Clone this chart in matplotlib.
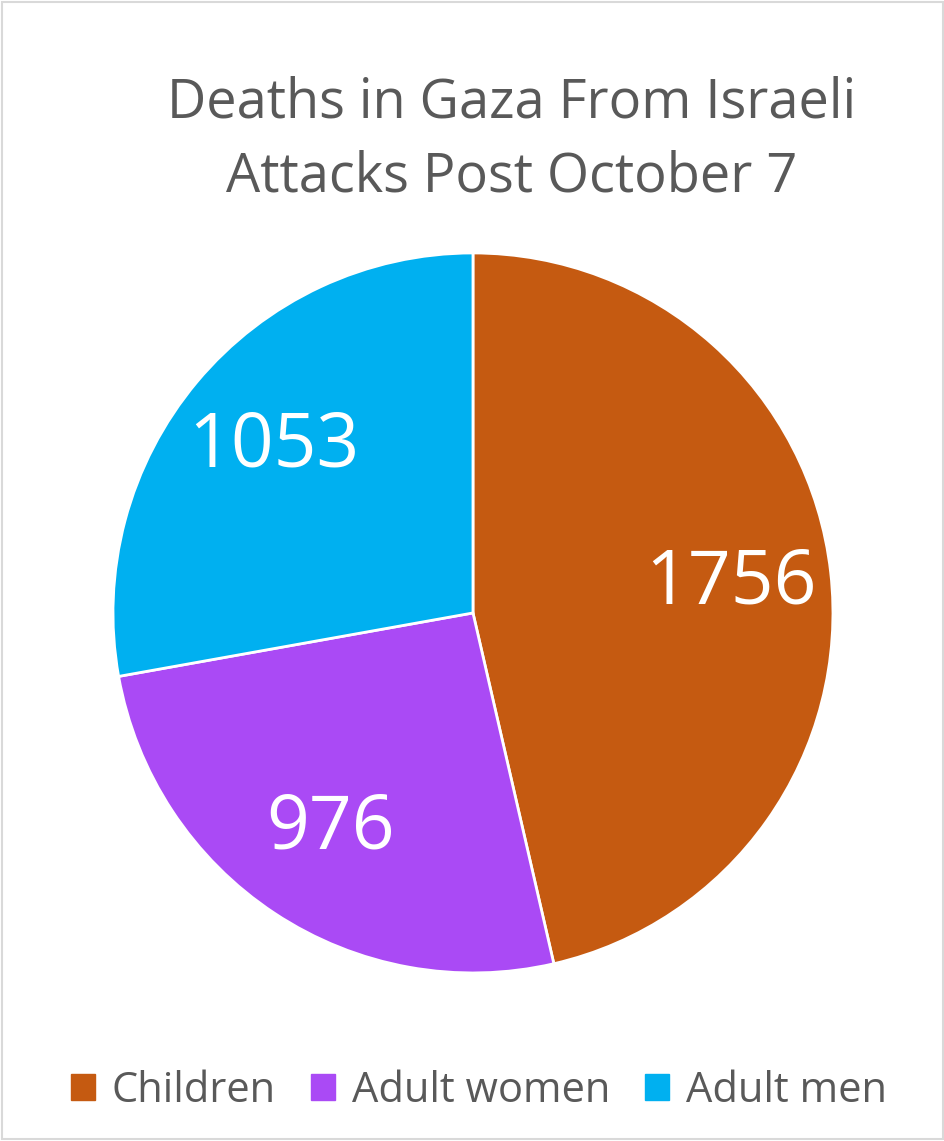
import matplotlib.pyplot as plt
from matplotlib.patches import Patch, Rectangle

categories = ["Children", "Adult women", "Adult men"]
deaths = [1756, 976, 1053]
colors = ["#C55A11", "#AA4AF5", "#00B0F0"]
title = "Deaths in Gaza From Israeli\nAttacks Post October 7"

plt.rcParams["font.family"] = ["Open Sans", "DejaVu Sans"]
text_grey = "#595959"

fig = plt.figure(figsize=(9.45, 11.41), dpi=100)
fig.patches.append(
    Rectangle((0.002, 0.002), 0.996, 0.996, transform=fig.transFigure,
              fill=False, edgecolor="#D9D9D9", linewidth=1.5)
)

ax = fig.add_axes([0.1195, 0.1473, 0.762, 0.631])
total = sum(deaths)
ax.pie(
    deaths,
    colors=colors,
    startangle=90,
    counterclock=False,
    radius=1,
    wedgeprops={"edgecolor": "white", "linewidth": 2},
    autopct=lambda p: f"{round(p * total / 100)}",
    pctdistance=0.72,
    textprops={"color": "white", "fontsize": 54},
)
ax.set_xlim(-1, 1)
ax.set_ylim(-1, 1)

fig.text(0.541, 0.934, title, ha="center", va="top", fontsize=39,
         color=text_grey, linespacing=1.45)

handles = [Patch(facecolor=c, edgecolor=c) for c in colors]
fig.legend(
    handles,
    categories,
    loc="center",
    bbox_to_anchor=(0.507, 0.044),
    ncol=3,
    frameon=False,
    fontsize=30,
    labelcolor=text_grey,
    handlelength=0.57,
    handleheight=0.57,
    handletextpad=0.4,
    columnspacing=0.85,
)

fig.savefig("out.png", dpi=100)
